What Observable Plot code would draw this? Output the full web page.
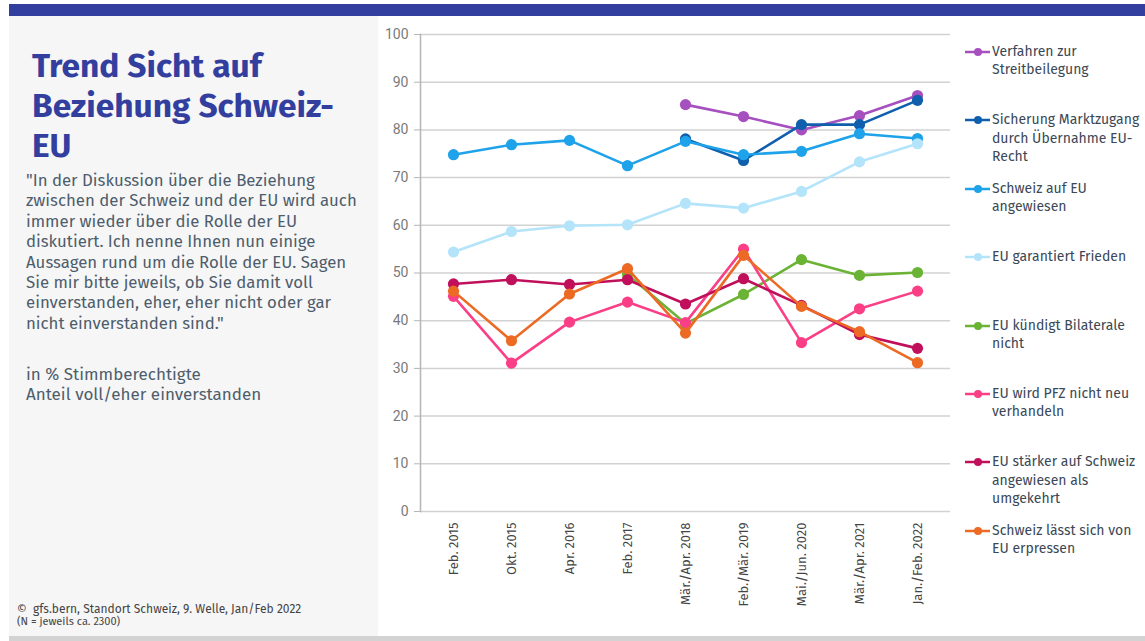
<!DOCTYPE html>
<html>
<head>
<meta charset="utf-8">
<script src="https://cdn.jsdelivr.net/npm/d3@7"></script>
<script src="https://cdn.jsdelivr.net/npm/@observablehq/plot@0.6"></script>
<style>
  html, body { margin: 0; padding: 0; background: #fff; }
  body { width: 1145px; height: 641px; position: relative; overflow: hidden; font-family: "Fira Sans", Lato, "Noto Sans", sans-serif; }
  #topbar { position: absolute; left: 9px; top: 4px; width: 1136px; height: 12px; background: #333f9e; }
  #panel { position: absolute; left: 9px; top: 16px; width: 369px; height: 620px; background: #f6f6f6; }
  #bottombar { position: absolute; left: 9px; top: 636px; width: 1136px; height: 5px; background: #d3d3d3; }
  #title { position: absolute; left: 32px; top: 46px; white-space: nowrap; font-weight: 700; font-size: 33.5px; line-height: 40px; color: #333f9e; }
  #quote { position: absolute; left: 26px; top: 170px; white-space: nowrap; font-size: 16.8px; line-height: 20.4px; color: #4e5d6c; }
  #unit { position: absolute; left: 26px; top: 365px; white-space: nowrap; font-size: 17px; line-height: 20.4px; color: #4e5d6c; }
  #footer { position: absolute; left: 17px; top: 603px; font-size: 12px; line-height: 12px; color: #444; }
  #footer .n { font-size: 11px; }
  #chart { position: absolute; left: 370px; top: 20px; }
  #legend { position: absolute; left: 965px; top: 43px; width: 180px; }
  .item { position: absolute; left: 0; display: flex; align-items: flex-start; font-size: 14px; line-height: 18.3px; color: #3b4856; }
  .item svg { flex: none; margin-top: 3px; }
</style>
</head>
<body>
<div id="topbar"></div>
<div id="panel"></div>
<div id="bottombar"></div>
<div id="title">Trend Sicht auf<br>Beziehung Schweiz-<br>EU</div>
<div id="quote">"In der Diskussion über die Beziehung<br>zwischen der Schweiz und der EU wird auch<br>immer wieder über die Rolle der EU<br>diskutiert. Ich nenne Ihnen nun einige<br>Aussagen rund um die Rolle der EU. Sagen<br>Sie mir bitte jeweils, ob Sie damit voll<br>einverstanden, eher, eher nicht oder gar<br>nicht einverstanden sind."</div>
<div id="unit">in % Stimmberechtigte<br>Anteil voll/eher einverstanden</div>
<div id="footer">©&nbsp; gfs.bern, Standort Schweiz, 9. Welle, Jan/Feb 2022<br><span class="n">(N = jeweils ca. 2300)</span></div>
<div id="chart"></div>
<div id="legend"></div>
<script>
const periods = ["Feb. 2015", "Okt. 2015", "Apr. 2016", "Feb. 2017", "Mär./Apr. 2018", "Feb./Mär. 2019", "Mai./Jun. 2020", "Mär./Apr. 2021", "Jan./Feb. 2022"];

const seriesNames = [
  "Verfahren zur Streitbeilegung",
  "Sicherung Marktzugang durch Übernahme EU-Recht",
  "Schweiz auf EU angewiesen",
  "EU garantiert Frieden",
  "EU kündigt Bilaterale nicht",
  "EU wird PFZ nicht neu verhandeln",
  "EU stärker auf Schweiz angewiesen als umgekehrt",
  "Schweiz lässt sich von EU erpressen"
];

const seriesColors = ["#a64fbf", "#0f5fad", "#1ea2e9", "#b4e4fa", "#6bb334", "#fb3f86", "#c1105b", "#ec6a23"];

const verfahren   = [null, null, null, null, 85.3, 82.8, 80.0, 83.0, 87.2];
const sicherung   = [null, null, null, null, 78.1, 73.6, 81.1, 81.1, 86.2];
const schweizEU   = [74.8, 76.9, 77.8, 72.5, 77.6, 74.8, 75.5, 79.2, 78.2];
const frieden     = [54.4, 58.7, 59.9, 60.1, 64.6, 63.6, 67.1, 73.3, 77.1];
const bilaterale  = [null, null, null, 49.7, 39.4, 45.5, 52.8, 49.5, 50.1];
const pfz         = [45.1, 31.1, 39.7, 43.9, 39.6, 55.0, 35.4, 42.5, 46.2];
const staerker    = [47.7, 48.6, 47.6, 48.6, 43.5, 48.8, 43.2, 37.1, 34.2];
const erpressen   = [46.2, 35.8, 45.6, 50.9, 37.4, 53.7, 43.0, 37.7, 31.2];

const yTicks = [0, 10, 20, 30, 40, 50, 60, 70, 80, 90, 100];

const seriesValues = [verfahren, sicherung, schweizEU, frieden, bilaterale, pfz, staerker, erpressen];

const data = [];
seriesValues.forEach((vals, i) => {
  vals.forEach((v, j) => {
    if (v != null) data.push({series: seriesNames[i], period: periods[j], value: v, order: i});
  });
});

const colorScale = {domain: seriesNames, range: seriesColors};

const marks = [
  Plot.gridY(yTicks, {stroke: "#d2d2d2", strokeOpacity: 1, strokeWidth: 1.5}),
  Plot.frame({anchor: "left", stroke: "#b5b5b5", strokeWidth: 1.5}),
  Plot.axisY(yTicks, {tickSize: 6, tickPadding: 6, stroke: "#b5b5b5", fill: "#7a7a7a", fontSize: 14, fontFamily: "Roboto, 'Liberation Sans', sans-serif", label: null}),
  Plot.axisX({tickSize: 0, tickRotate: -90, tickPadding: 11, fill: "#444", fontSize: 13, fontFamily: "'Fira Sans', Lato, 'Noto Sans', sans-serif", label: null})
];
seriesNames.forEach((name, i) => {
  const d = data.filter(r => r.series === name);
  marks.push(Plot.line(d, {x: "period", y: "value", stroke: "series", strokeWidth: 2.6}));
  marks.push(Plot.dot(d, {x: "period", y: "value", fill: "series", r: 5.6}));
});

const chart = Plot.plot({
  width: 590,
  height: 600,
  marginLeft: 50,
  marginRight: 10,
  marginTop: 14,
  marginBottom: 109,
  style: {background: "transparent", overflow: "visible"},
  x: {type: "point", domain: periods, padding: 0.5},
  y: {domain: [0, 100]},
  color: colorScale,
  marks
});
document.getElementById("chart").appendChild(chart);

const legend = document.getElementById("legend");
seriesNames.forEach((name, i) => {
  const item = document.createElement("div");
  item.className = "item";
  item.style.top = (i * 68.4) + "px";
  item.innerHTML = `<svg width="27" height="12"><line x1="0" y1="6" x2="25" y2="6" stroke="${seriesColors[i]}" stroke-width="2.5"/><circle cx="13" cy="6" r="4" fill="${seriesColors[i]}"/></svg><span style="width:150px">${name}</span>`;
  legend.appendChild(item);
});
</script>
</body>
</html>
